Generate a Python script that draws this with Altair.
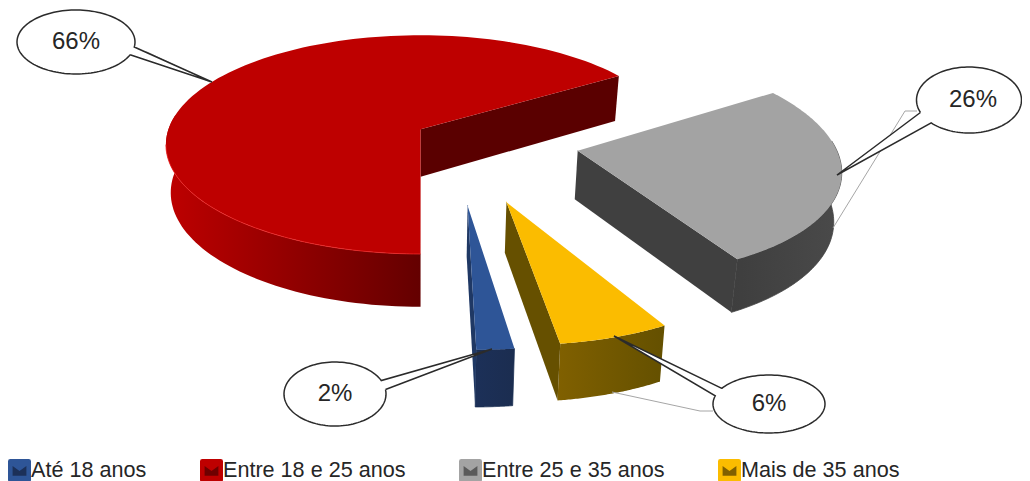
import math
import altair as alt
import pandas as pd

categories = ["Até 18 anos", "Entre 18 e 25 anos", "Entre 25 e 35 anos", "Mais de 35 anos"]
values = [2, 66, 26, 6]
top_colors = ["#2E5597", "#BE0000", "#A3A3A3", "#FBBC00"]
swatch_marks = ["#1C3058", "#6E0000", "#5A5A5A", "#806000"]
swatch_centres = [19, 212, 470, 729]

# pie layout (perspective view of an exploded disc)
START_ANGLE = 172.8
EXPLODE = [0.567, 0.15, 0.485, 0.567]
RADIUS = [0.975, 0.995, 0.992, 0.975]
TILT = [0.062, 0.015, 0.062, 0.062]
CENTRE = (0.13, -0.085)
ORIGIN = (421.0, 128.0)
R, K, A = 253.0, 107.4, 0.1547
# rounded swatch with a notch that lets the dark glyph underneath show through
SWATCH = ("M-0.8,-1H0.8Q1,-1 1,-0.8V0.8Q1,1 0.8,1H-0.8Q-1,1 -1,0.8V-0.8Q-1,-1 -0.8,-1Z"
          "M-0.6,-0.4L-0.6,0.45L0.6,0.45L0.6,-0.4L0,0.05Z")


def project(X, Y):
    p = 1 + A * Y
    return ORIGIN[0] + R * X / p, ORIGIN[1] - K * Y / p


def lower(pt):
    x, y = pt
    return 420 + (x - 420) * 0.981, y + 45 + 0.044 * (y - 75)


def disc(angle, apex, radius=1.0, tilt=0.0):
    t = math.radians(angle)
    r = radius * (1 + tilt * math.cos(t))
    return project(apex[0] + r * math.sin(t), apex[1] + r * math.cos(t))


def arc(a0, a1, apex, radius, tilt, n=60):
    return [disc(a0 + (a1 - a0) * i / n, apex, radius, tilt) for i in range(n + 1)]


X = alt.X("x:Q", scale=alt.Scale(domain=[8, 1022], nice=False, zero=False), axis=None)
Y = alt.Y("y:Q", scale=alt.Scale(domain=[481, 8], nice=False, zero=False), axis=None)


def shape(points, fill, stroke="transparent", width=0, opacity=1, close=True):
    pts = list(points) + ([points[0]] if close else [])
    df = pd.DataFrame({"x": [p[0] for p in pts], "y": [p[1] for p in pts], "i": range(len(pts))})
    return alt.Chart(df).mark_line(
        fill=fill, stroke=stroke, strokeWidth=width, opacity=opacity, interpolate="linear"
    ).encode(x=X, y=Y, order=alt.Order("i:Q"))


def grad(c0, c1):
    return alt.Gradient(gradient="linear", x1=0, x2=1, y1=0, y2=0,
                        stops=[alt.GradientStop(color=c0, offset=0), alt.GradientStop(color=c1, offset=1)])


wall_fill = [grad("#1C3058", "#1B2D50"), grad("#BE0000", "#640000"),
             grad("#3E3E3E", "#4A4A4A"), grad("#806000", "#645000")]
wall_edge = ["#1B2E52", "transparent", "#424242", "transparent"]
face_fill = ["#1F3864", "#5A0000", "#404040", "#665000"]

total = sum(values)
spans, acc = [], START_ANGLE
for v in values:
    span = v / total * 360
    a0 = acc - 360 if acc >= 360 else acc
    spans.append((a0, a0 + span))
    acc = a0 + span

apexes = []
for (a0, a1), e in zip(spans, EXPLODE):
    mid = math.radians((a0 + a1) / 2)
    apexes.append((CENTRE[0] + e * math.sin(mid), CENTRE[1] + e * math.cos(mid)))

sides, tops = [], []
legend_df = pd.DataFrame({
    "cat": categories,
    "x": [project(*a)[0] for a in apexes],
    "y": [project(*a)[1] for a in apexes],
})
for i in [1, 2, 3, 0]:
    a0, a1 = spans[i]
    apex, rad, tilt = apexes[i], RADIUS[i], TILT[i]
    lo, hi = max(a0, 85), min(a1, 278)
    if hi > lo:
        top_arc = arc(lo, hi, apex, rad, tilt)
        sides.append(shape(top_arc + [lower(p) for p in reversed(top_arc)], wall_fill[i], wall_edge[i], 0.8))
    top_apex = project(*apex)
    edge = disc(a1, apex, rad, tilt)
    sides.append(shape([top_apex, edge, lower(edge), lower(top_apex)], face_fill[i]))
    tops.append(shape([top_apex] + arc(a0, a1, apex, rad, tilt, 120), top_colors[i]))

# thin bright rim along the front of the large slice
rim = shape(arc(180, 262, apexes[1], RADIUS[1], TILT[1]), "transparent", "#F02828", 1, 0.8, close=False)

legend_layer = alt.Chart(legend_df).mark_square(size=1).encode(
    x=X, y=Y,
    color=alt.Color("cat:N",
                    scale=alt.Scale(domain=categories, range=top_colors),
                    sort=categories,
                    legend=alt.Legend(orient="none", legendX=0, legendY=451, direction="horizontal",
                                      columns=4, columnPadding=53, symbolType=SWATCH, symbolSize=529,
                                      title=None, labelFont="Liberation Sans", labelFontSize=21.6,
                                      labelColor="#262626", labelOffset=0, padding=0, labelLimit=300,
                                      symbolStrokeWidth=0, symbolOpacity=1)),
)

# dark patch under each legend swatch, seen through its notch
glyphs = [shape([(c - 9, 463), (c + 9, 463), (c + 9, 477), (c - 9, 477)], col)
          for c, col in zip(swatch_centres, swatch_marks)]

# callouts: label, ellipse centre and radii, text position, tail bases, tip, thin leader
callouts = [
    ("66%", (76, 42), 59, 32, (76, 42), (133, 51), (122, 62), (212, 82), [(137, 52), (147, 52), (210, 82)]),
    ("26%", (969, 100), 52.5, 33, (973, 100), (925, 118), (941, 127), (837, 175), [(917, 111), (905, 111), (833, 228)]),
    ("2%", (335, 394), 51, 32, (335, 394), (376, 375), (385, 387), (492, 349), []),
    ("6%", (769, 404), 56, 29, (769, 404), (733, 381), (721, 390), (614, 336), [(713, 411), (700, 411), (612, 392)]),
]
leaders, bubbles, texts = [], [], []
for label, c, rx, ry, pos, b0, b1, tip, lead in callouts:
    if lead:
        leaders.append(shape(lead, "transparent", "#A6A6A6", 1, close=False))
    start = math.atan2(b1[1] - c[1], b1[0] - c[0])
    stop = math.atan2(b0[1] - c[1], b0[0] - c[0])
    while stop <= start:
        stop += 2 * math.pi
    sweep = stop - start
    if sweep < math.pi:  # always walk round the long way
        start, stop = stop, start + 2 * math.pi
        sweep = stop - start
    outline = [(c[0] + rx * math.cos(start + sweep * j / 120), c[1] + ry * math.sin(start + sweep * j / 120))
               for j in range(121)]
    bubbles.append(shape(outline + [tip], "#FFFFFF", "#2B2B2B", 1.5))
    texts.append(alt.Chart(pd.DataFrame({"x": [pos[0]], "y": [pos[1]], "t": [label]})).mark_text(
        font="Liberation Sans", fontSize=24, color="#262626", align="center", baseline="middle"
    ).encode(x=X, y=Y, text="t:N"))

chart = alt.layer(legend_layer, *sides, *tops, rim, *glyphs, *leaders, *bubbles, *texts).properties(
    width=1014, height=473, padding=0,
    autosize=alt.AutoSizeParams(type="none"),
).configure_view(stroke=None)

chart.save("out.html", embed_options={"renderer": "svg", "actions": False})
